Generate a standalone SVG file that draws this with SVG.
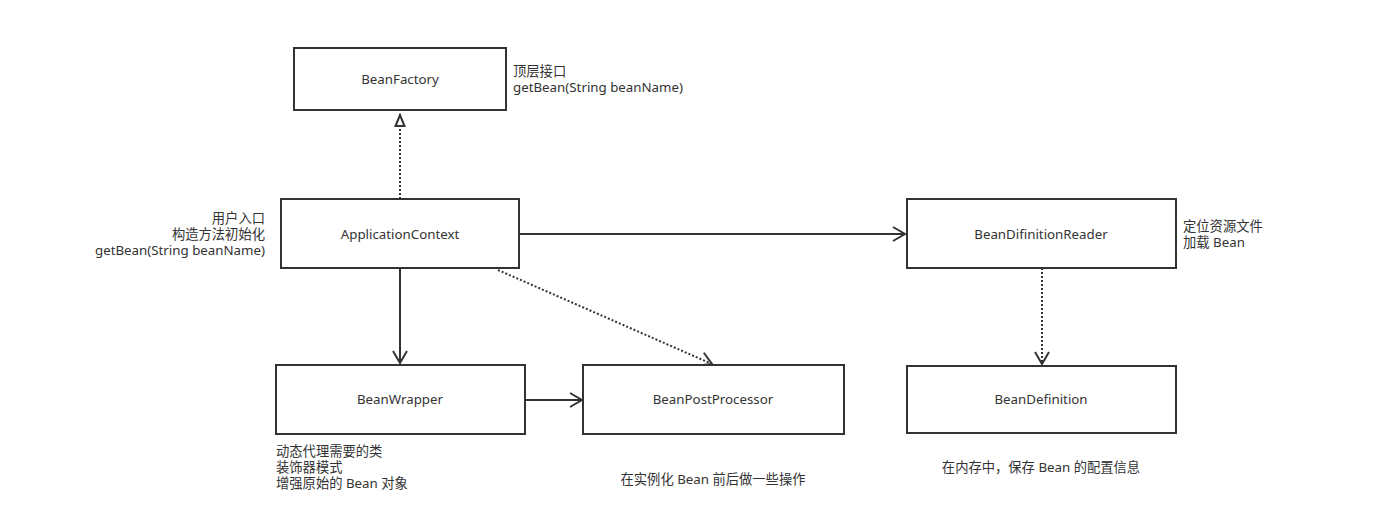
<svg xmlns="http://www.w3.org/2000/svg" width="1375" height="531" viewBox="0 0 1375 531">
<style>
.box{fill:#fff;stroke:#333;stroke-width:2}
.t{font-family:"Noto Sans","Noto Sans CJK SC",sans-serif;font-size:13.3px;fill:#333}
.c{text-anchor:middle;dominant-baseline:central}
.ln{fill:none;stroke:#333;stroke-width:2}
.dot{fill:none;stroke:#333;stroke-width:2;stroke-dasharray:2 2}
</style>
<defs>
<marker id="open" viewBox="0 0 16 16" refX="14" refY="8" markerWidth="16" markerHeight="16" markerUnits="userSpaceOnUse" orient="auto">
<path d="M2,1 L14,8 L2,15" fill="none" stroke="#333" stroke-width="2"/>
</marker>
<marker id="tri" viewBox="0 0 14 12" refX="13" refY="6" markerWidth="14" markerHeight="12" markerUnits="userSpaceOnUse" orient="auto">
<path d="M1,1.5 L12,6 L1,10.5 Z" fill="#fff" stroke="#333" stroke-width="2"/>
</marker>
</defs>
<rect width="1375" height="531" fill="#fff"/>
<g id="connectors">
<path class="dot" d="M400,199 L400,114" marker-end="url(#tri)"/>
<path class="ln" d="M400,268 L400,363" marker-end="url(#open)"/>
<path class="ln" d="M519,234 L905,234" marker-end="url(#open)"/>
<path class="dot" d="M498,270 L712,364" marker-end="url(#open)"/>
<path class="ln" d="M525,400 L582,400" marker-end="url(#open)"/>
<path class="dot" d="M1042,268 L1042,364" marker-end="url(#open)"/>
</g>
<g id="BeanFactory">
<rect class="box" x="294" y="48" width="212" height="62"/>
<text class="t c" x="400" y="79">BeanFactory</text>
<text class="t" x="513" y="76">顶层接口</text>
<text class="t" x="513" y="92">getBean(String beanName)</text>
</g>
<g id="ApplicationContext">
<rect class="box" x="281" y="199" width="238" height="69"/>
<text class="t c" x="400" y="234">ApplicationContext</text>
<text class="t" text-anchor="end" x="265" y="223">用户入口</text>
<text class="t" text-anchor="end" x="265" y="239">构造方法初始化</text>
<text class="t" text-anchor="end" x="265" y="255">getBean(String beanName)</text>
</g>
<g id="BeanDifinitionReader">
<rect class="box" x="907" y="199" width="269" height="69"/>
<text class="t c" x="1041" y="234">BeanDifinitionReader</text>
<text class="t" x="1183" y="231">定位资源文件</text>
<text class="t" x="1183" y="247">加载 Bean</text>
</g>
<g id="BeanWrapper">
<rect class="box" x="276" y="365" width="249" height="69"/>
<text class="t c" x="400" y="399">BeanWrapper</text>
<text class="t" x="276" y="456">动态代理需要的类</text>
<text class="t" x="276" y="472">装饰器模式</text>
<text class="t" x="276" y="488">增强原始的 Bean 对象</text>
</g>
<g id="BeanPostProcessor">
<rect class="box" x="583" y="365" width="261" height="69"/>
<text class="t c" x="713" y="399">BeanPostProcessor</text>
<text class="t c" x="713" y="479">在实例化 Bean 前后做一些操作</text>
</g>
<g id="BeanDefinition">
<rect class="box" x="907" y="366" width="269" height="67"/>
<text class="t c" x="1041" y="399">BeanDefinition</text>
<text class="t c" x="1041" y="467">在内存中，保存 Bean 的配置信息</text>
</g>
</svg>
